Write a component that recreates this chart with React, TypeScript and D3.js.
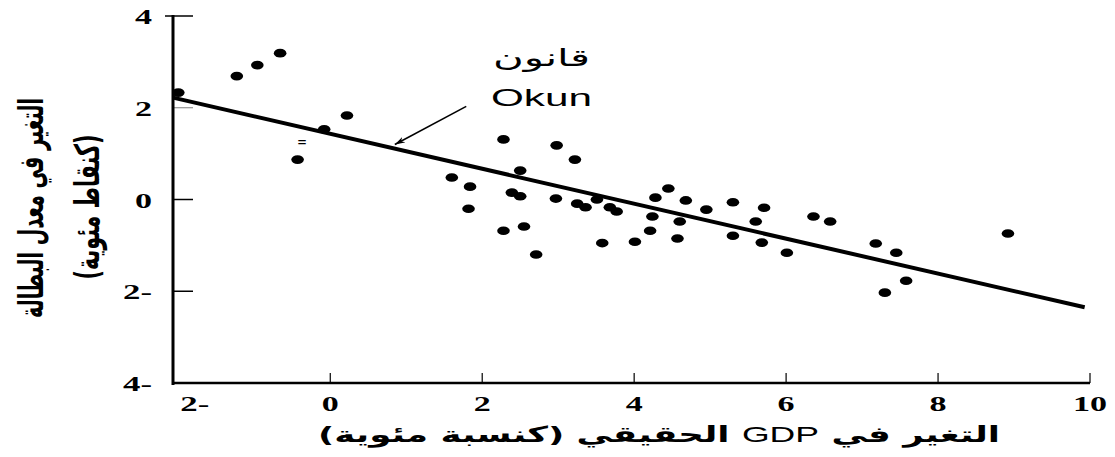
import * as d3 from 'd3';
import React from 'react';

// growth of real GDP (%) vs change in unemployment rate (points)
const gdpGrowth = [
  -2.0, -1.23, -0.96, -0.66, 0.22, -0.08, -0.43,
  2.28, 2.98, 3.22, 2.5, 1.6, 1.84, 2.39, 2.5, 2.97, 3.25, 3.36, 3.51, 3.68, 3.77,
  1.82, 2.28, 2.55, 3.58, 2.71,
  4.45, 4.28, 4.68, 4.24, 4.6, 4.95, 5.3, 5.71, 5.6, 4.21, 4.57, 4.01, 5.3, 5.68, 6.01,
  6.36, 6.58, 7.18, 7.45, 7.58, 7.3, 8.92,
];
const unemploymentChange = [
  2.33, 2.69, 2.93, 3.19, 1.83, 1.53, 0.87,
  1.31, 1.18, 0.87, 0.63, 0.48, 0.28, 0.15, 0.07, 0.02, -0.09, -0.17, 0.0, -0.17, -0.26,
  -0.2, -0.68, -0.59, -0.95, -1.2,
  0.24, 0.04, -0.02, -0.37, -0.48, -0.22, -0.06, -0.18, -0.48, -0.68, -0.85, -0.92, -0.79, -0.94, -1.16,
  -0.37, -0.48, -0.96, -1.16, -1.77, -2.03, -0.74,
];

// Okun's law line (start, end)
const okunLine: [number, number][] = [[-2.07, 2.22], [9.93, -2.35]];

const xTicks = [-2, 0, 2, 4, 6, 8, 10];
const yTicks = [4, 2, 0, -2, -4];

const labelTitleAr = 'قانون';
const labelTitleEn = 'Okun';
const annotationAt = { x: 2.78, arY: 2.91, enY: 2.03 };
const arrowFrom: [number, number] = [1.79, 2.03];
const arrowTo: [number, number] = [0.85, 1.2];
const oddMark: [number, number] = [-0.37, 1.25];

const xTitleParts = ['التغير في ', 'GDP', '  الحقيقي (كنسبة مئوية)'];
const yTitle1 = 'التغير في معدل البطالة';
const yTitle2 = '(كنقاط مئوية)';

const fmt = (v: number) => (v < 0 ? `${Math.abs(v)}-` : `${v}`);

export default function App() {
  const width = 1115, height = 457;
  const x = d3.scaleLinear().domain([-2.07, 10]).range([173, 1090]);
  const y = d3.scaleLinear().domain([-4, 4]).range([383, 16]);

  const line = d3.line<[number, number]>().x(d => x(d[0])).y(d => y(d[1]));
  const points = gdpGrowth.map((g, i) => [g, unemploymentChange[i]]);

  const serif = { fontFamily: 'Liberation Serif, serif', fontWeight: 'bold' as const };
  const arab = { fontFamily: 'DejaVu Sans, sans-serif', fontWeight: 'bold' as const };
  const tickLen = (v: number) => String(Math.abs(v)).length * 17 + (v < 0 ? 12 : 0);

  return (
    <svg width={width} height={height} style={{ position: 'absolute', left: 0, top: 0, background: '#fff' }}>
      <defs>
        <marker id="head" viewBox="0 0 10 6" refX="10" refY="3" markerWidth="10" markerHeight="6"
          markerUnits="userSpaceOnUse" orient="auto">
          <path d="M0,0 L10,3 L0,6 L3,3 Z" fill="#000" />
        </marker>
      </defs>

      {/* y axis */}
      <line x1={x(-2.07)} x2={x(-2.07)} y1={y(4) - 1} y2={y(-4) + 2} stroke="#000" strokeWidth={3} />
      {yTicks.filter(v => v > -4).map(v => (
        <line key={'yt' + v} x1={x(-2.07) - (v === 4 ? 8 : 0)} x2={x(-2.07) + 20} y1={y(v)} y2={y(v)}
          stroke="#000" strokeWidth={v === 2 ? 1 : 1.5} opacity={v === 2 ? 0.5 : 1} />
      ))}
      {yTicks.map(v => (
        <text key={'yl' + v} x={152} y={y(v) + 8} textAnchor="end" fontSize={20} {...serif}
          textLength={tickLen(v)} lengthAdjust="spacingAndGlyphs">{fmt(v)}</text>
      ))}

      {/* x axis */}
      <line x1={x(-2.07)} x2={x(10)} y1={y(-4)} y2={y(-4)} stroke="#000" strokeWidth={2.5} />
      {xTicks.filter(v => v > -2).map(v => (
        <line key={'xt' + v} x1={x(v)} x2={x(v)} y1={y(-4)} y2={y(-4) - 10} stroke="#000" strokeWidth={1.2} />
      ))}
      {xTicks.map(v => (
        <text key={'xl' + v} x={v < 0 ? x(v) + 2 : x(v)} y={411} textAnchor={v < 0 ? 'start' : 'middle'}
          fontSize={20} {...serif} textLength={tickLen(v)} lengthAdjust="spacingAndGlyphs">{fmt(v)}</text>
      ))}

      {/* Okun line */}
      <path d={line(okunLine) || ''} fill="none" stroke="#000" strokeWidth={4} />

      {/* points */}
      {points.map((p, i) => (
        <ellipse key={i} cx={x(p[0])} cy={y(p[1])} rx={6.3} ry={4.3} fill="#000" />
      ))}
      <text x={x(oddMark[0])} y={y(oddMark[1]) + 6} textAnchor="middle" fontSize={16} {...serif}>=</text>

      {/* annotation */}
      <text x={x(annotationAt.x)} y={y(annotationAt.arY)} textAnchor="middle" fontSize={24}
        fontFamily="DejaVu Sans, sans-serif" textLength={97} lengthAdjust="spacingAndGlyphs">{labelTitleAr}</text>
      <text x={x(annotationAt.x)} y={y(annotationAt.enY)} textAnchor="middle" fontSize={24}
        fontFamily="Liberation Sans, Arial, sans-serif" textLength={101} lengthAdjust="spacingAndGlyphs">{labelTitleEn}</text>
      <line x1={x(arrowFrom[0])} y1={y(arrowFrom[1])} x2={x(arrowTo[0])} y2={y(arrowTo[1])}
        stroke="#000" strokeWidth={1.6} markerEnd="url(#head)" />

      {/* axis titles */}
      <text x={659} y={442} textAnchor="middle" fontSize={22} direction="rtl" {...arab}
        textLength={682} lengthAdjust="spacingAndGlyphs">
        {xTitleParts[0]}
        <tspan fontFamily="Liberation Sans, Arial, sans-serif" fontWeight="normal">{xTitleParts[1]}</tspan>
        {xTitleParts[2]}
      </text>
      <text transform="translate(43,208) rotate(-90)" textAnchor="middle" fontSize={34} direction="rtl" {...arab}
        textLength={220} lengthAdjust="spacingAndGlyphs">{yTitle1}</text>
      <text transform="translate(99,207) rotate(-90)" textAnchor="middle" fontSize={34} direction="rtl" {...arab}
        textLength={145} lengthAdjust="spacingAndGlyphs">{yTitle2}</text>
    </svg>
  );
}
